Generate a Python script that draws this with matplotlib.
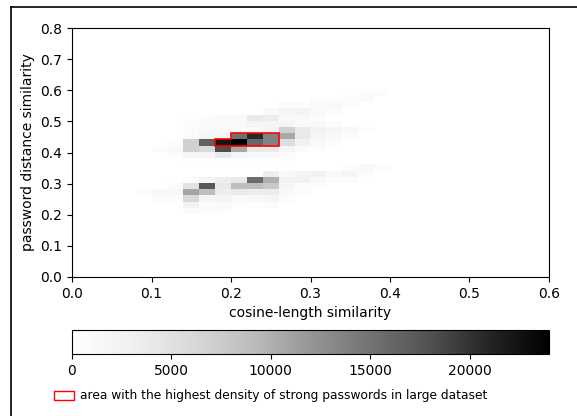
import numpy as np
import matplotlib
matplotlib.use('Agg')
import matplotlib.pyplot as plt
from matplotlib.patches import Patch, Polygon
from matplotlib.lines import Line2D

# bin edges of the 2d histogram (only the non-empty part)
x_edges = np.round(np.arange(0.08, 0.4001, 0.02), 3)
y_edges = np.round(np.arange(0.202, 0.6021, 0.02), 3)

# counts per cell, rows from y=0.202 upwards, columns from x=0.08 rightwards
counts = [
    [0, 0, 0, 800, 600, 600, 0, 0, 0, 0, 0, 0, 0, 0, 0, 0],
    [0, 0, 0, 2400, 800, 1200, 600, 400, 800, 0, 0, 0, 0, 0, 0, 0],
    [0, 600, 600, 6000, 2000, 2000, 1200, 1200, 2000, 600, 0, 0, 0, 0, 0, 0],
    [500, 1200, 1200, 10800, 8900, 3300, 4000, 3300, 3600, 1200, 600, 0, 0, 0, 0, 0],
    [0, 0, 600, 4800, 17500, 4000, 8900, 8900, 7800, 2000, 800, 600, 0, 0, 0, 0],
    [0, 0, 0, 600, 2000, 3300, 4000, 15600, 10100, 2600, 2600, 1200, 800, 600, 0, 0],
    [0, 0, 0, 0, 0, 0, 0, 0, 3300, 1200, 2000, 2600, 1200, 2000, 800, 0],
    [0, 0, 0, 0, 0, 0, 0, 0, 0, 0, 0, 0, 0, 600, 1200, 800],
    [0, 0, 0, 300, 300, 300, 300, 300, 300, 300, 0, 0, 0, 0, 0, 0],
    [0, 0, 600, 2000, 2000, 4000, 2000, 1200, 1200, 600, 0, 0, 0, 0, 0, 0],
    [0, 600, 1200, 7000, 6000, 18200, 10500, 4000, 4000, 2000, 800, 600, 0, 0, 0, 0],
    [0, 0, 600, 7000, 16600, 22300, 24000, 16100, 13700, 5500, 2600, 1200, 600, 0, 0, 0],
    [0, 0, 0, 600, 2000, 2000, 15200, 20800, 13700, 10500, 4000, 2000, 1200, 600, 0, 0],
    [0, 0, 0, 800, 1200, 1200, 1200, 1200, 2000, 7000, 4000, 2600, 2000, 1200, 600, 0],
    [0, 0, 0, 600, 800, 1200, 1200, 2000, 2000, 2000, 1200, 1200, 600, 0, 0, 0],
    [0, 0, 0, 300, 600, 1200, 1200, 4000, 3300, 1200, 1200, 800, 0, 0, 0, 0],
    [0, 0, 0, 0, 0, 0, 0, 0, 1200, 2000, 2400, 1200, 800, 0, 0, 0],
    [0, 0, 0, 0, 0, 0, 0, 0, 0, 800, 800, 1200, 1200, 800, 0, 0],
    [0, 0, 0, 0, 0, 0, 0, 0, 0, 0, 0, 600, 600, 600, 800, 0],
    [0, 0, 0, 0, 0, 0, 0, 0, 0, 0, 0, 0, 0, 300, 600, 600],
]
vmax = 24000

# outline of the densest area of strong passwords
area_x = [0.18, 0.18, 0.20, 0.20, 0.26, 0.26]
area_y = [0.422, 0.442, 0.442, 0.462, 0.462, 0.422]

fig = plt.figure(figsize=(5.77, 4.16), dpi=100)
ax = fig.add_axes([72/577, 1-277/416, 477/577, 249/416])
mesh = ax.pcolormesh(x_edges, y_edges, np.array(counts), cmap='Greys', vmin=0, vmax=vmax)
ax.add_patch(Polygon(np.column_stack([area_x, area_y]), closed=True, fill=False,
                     edgecolor='red', linewidth=1.2))
ax.set_xlim(0, 0.6)
ax.set_ylim(0, 0.8)
ax.set_xticks(np.arange(0, 0.61, 0.1))
ax.set_yticks(np.arange(0, 0.81, 0.1))
ax.set_xlabel('cosine-length similarity')
ax.set_ylabel('password distance similarity')

cax = fig.add_axes([72/577, 1-354/416, 477/577, 24/416])
cb = fig.colorbar(mesh, cax=cax, orientation='horizontal')
cb.set_ticks([0, 5000, 10000, 15000, 20000])

fig.legend(handles=[Patch(facecolor='white', edgecolor='red')],
           labels=['area with the highest density of strong passwords in large dataset'],
           loc='center', bbox_to_anchor=(0.469, 1-396/416), frameon=False,
           fontsize=8.8, handlelength=1.6, handletextpad=0.5)

# frame of the original figure (only left and top edge visible)
fig.add_artist(Line2D([11.5/577, 11.5/577], [0, 1-7/416], color='black', lw=1.2))
fig.add_artist(Line2D([11.5/577, 1], [1-7/416, 1-7/416], color='black', lw=1.2))

fig.savefig('out.png', dpi=100)
